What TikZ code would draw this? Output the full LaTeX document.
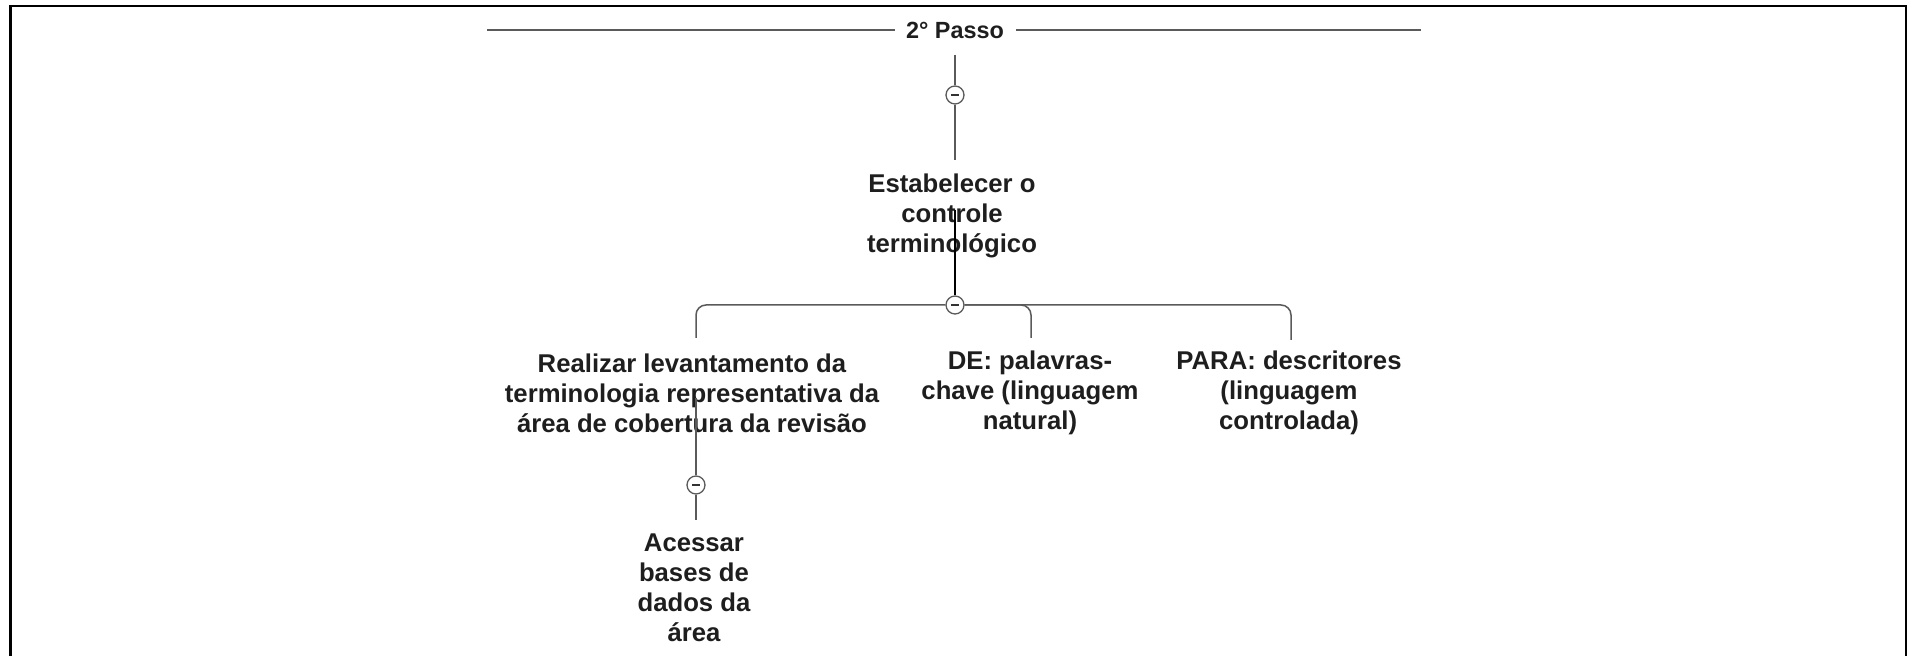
\documentclass[tikz,border=0pt]{standalone}
\usepackage{fontspec}
\setmainfont{Liberation Sans}
\definecolor{lineg}{HTML}{5A5A5A}
\definecolor{txt}{HTML}{1E1E1E}
\tikzset{
  conn/.style={draw=lineg, line width=0.75pt},
  hdr/.style={draw=lineg, line width=1pt},
  darkconn/.style={draw=black, line width=1.1pt},
  tog/.style={circle, draw=lineg, fill=white, line width=0.65pt, minimum size=9pt, inner sep=0pt},
  minusbar/.style={draw=black!80, line width=0.8pt},
  lbl/.style={align=center, inner sep=0pt, text=txt, font=\fontsize{12.85}{15}\selectfont\bfseries},
  hlbl/.style={inner sep=0pt, text=txt, font=\fontsize{11.7}{14}\selectfont\bfseries},
}
\begin{document}
\begin{tikzpicture}[x=0.5pt,y=-0.5pt]
\useasboundingbox (0,0) rectangle (1908,656);
% frame
\draw[black, line width=1.35pt] (10.5,660) -- (10.5,6) -- (1906,6) -- (1906,660);

% header
\node[hlbl] (passo) at (955,30) {2° Passo};
\coordinate (hl) at (487,30);
\coordinate (hr) at (1421,30);
\draw[hdr] (hl) -- ([xshift=-5.5pt]passo.west |- hl);
\draw[hdr] ([xshift=6pt]passo.east |- hr) -- (hr);

% root toggle
\node[tog] (c1) at (955,95) {};
\draw[minusbar] ([xshift=-1.8pt]c1.center) -- ([xshift=1.8pt]c1.center);
\coordinate (t1) at (955,55);
\coordinate (t2) at (955,160);
\draw[conn] (t1) -- (c1.north);
\draw[conn] (c1.south) -- (t2);

% main node
\node[lbl] (est) at (952,216) {Estabelecer o\\controle\\terminológico};
\coordinate (e1) at (955,210);

% second toggle
\node[tog] (c2) at (955,305) {};
\draw[darkconn] (e1) -- (c2.north);
\draw[minusbar] ([xshift=-1.8pt]c2.center) -- ([xshift=1.8pt]c2.center);

% children
\node[lbl] (real) at (692,393) {Realizar levantamento da\\terminologia representativa da\\área de cobertura da revisão};
\node[lbl] (de) at (1030,393) {DE: palavras-\\chave (linguagem\\natural)};
\node[lbl] (para) at (1289,393) {PARA: descritores\\(linguagem\\controlada)};

\coordinate (rl) at (696,338);
\coordinate (dl) at (1031,338);
\coordinate (pl) at (1291,340);
\draw[conn, rounded corners=5pt] (c2.west) -| (rl);
\draw[conn, rounded corners=5pt] (c2.east) -| (dl);
\draw[conn, rounded corners=5pt] (c2.east) -| (pl);

% lower toggle
\coordinate (r1) at (696,398);
\node[tog] (c3) at (696,485) {};
\draw[conn] (r1) -- (c3.north);
\coordinate (a1) at (696,520);
\draw[conn] (c3.south) -- (a1);
\draw[minusbar] ([xshift=-1.8pt]c3.center) -- ([xshift=1.8pt]c3.center);

\node[lbl] (acc) at (694,588) {Acessar\\bases de\\dados da\\área};
\end{tikzpicture}
\end{document}
